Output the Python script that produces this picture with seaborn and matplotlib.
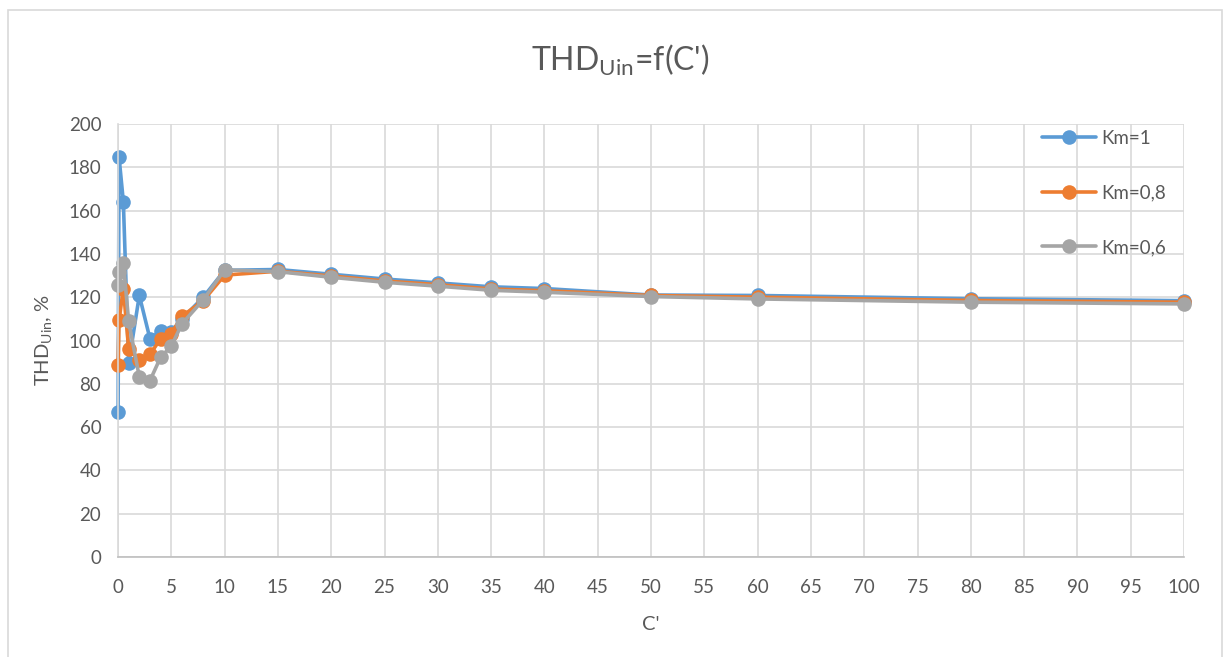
import matplotlib
matplotlib.use("Agg")
import matplotlib.pyplot as plt
from matplotlib.patches import Rectangle
import seaborn as sns
import pandas as pd

# C' values and THD of input voltage for three modulation depths
c_prime = [0.01, 0.1, 0.5, 1, 2, 3, 4, 5, 6, 8, 10, 15, 20, 25, 30, 35, 40, 50, 60, 80, 100]
thd_km_1 = [67.2, 184.6, 164.2, 89.4, 120.8, 100.8, 104.4, 104.0, 110.0, 120.0, 132.4, 132.8,
            130.6, 128.4, 126.6, 124.8, 124.0, 121.0, 120.8, 119.3, 118.4]
thd_km_08 = [88.6, 109.3, 124.0, 96.2, 90.8, 93.6, 100.8, 103.2, 111.2, 118.4, 130.2, 132.0,
             129.8, 127.5, 125.8, 123.8, 123.0, 120.8, 120.0, 118.5, 117.7]
thd_km_06 = [125.8, 131.5, 136.0, 108.8, 83.2, 81.5, 92.3, 97.4, 107.7, 118.8, 132.6, 131.8,
             129.2, 126.9, 125.1, 123.2, 122.3, 120.3, 119.2, 117.7, 116.9]
series_names = ["Km=1", "Km=0,8", "Km=0,6"]

frames = []
for name, vals in zip(series_names, [thd_km_1, thd_km_08, thd_km_06]):
    frames.append(pd.DataFrame({"C": c_prime, "THD": vals, "series": name}))
df = pd.concat(frames, ignore_index=True)

sns.set_theme(style="white")
plt.rcParams["font.family"] = ["Lato", "DejaVu Sans"]
plt.rcParams["mathtext.fontset"] = "custom"
plt.rcParams["mathtext.rm"] = "Lato"

text_color = "#595959"
grid_color = "#d9d9d9"
palette = {"Km=1": "#5B9BD5", "Km=0,8": "#ED7D31", "Km=0,6": "#A5A5A5"}

fig = plt.figure(figsize=(12.32, 6.57), dpi=100)
ax = fig.add_axes([118 / 1232, 1 - 557 / 657, (1184 - 118) / 1232, (557 - 124) / 657])

sns.lineplot(data=df, x="C", y="THD", hue="series", palette=palette, estimator=None,
             sort=False, marker="o", markersize=10.5, markeredgewidth=0, linewidth=2.6,
             ax=ax, legend=True)
for line in ax.lines:
    line.set_clip_on(False)

ax.set_xlim(0, 100)
ax.set_ylim(0, 200)
ax.set_xticks(range(0, 101, 5))
ax.set_yticks(range(0, 201, 20))
ax.grid(True, color=grid_color, linewidth=1.2)
ax.set_axisbelow(True)
for side in ["top", "right"]:
    ax.spines[side].set_visible(False)
ax.spines["left"].set_color(grid_color)
ax.spines["bottom"].set_color("#bfbfbf")
ax.spines["left"].set_linewidth(1.2)
ax.spines["bottom"].set_linewidth(1.2)
ax.tick_params(axis="both", length=0, labelsize=13.5, labelcolor=text_color)
ax.tick_params(axis="x", pad=16)
ax.tick_params(axis="y", pad=12)

ax.set_xlabel("C'", fontsize=14.5, color=text_color, labelpad=14)
ax.set_ylabel("THD$_{\\mathregular{Uin}}$, %", fontsize=14.5, color=text_color, labelpad=10)

fig.text(620 / 1232, 1 - 60 / 657, "THD$_{\\mathregular{Uin}}$=f(C')", fontsize=23,
         color=text_color, ha="center", va="center")

handles, labels = ax.get_legend_handles_labels()
leg = ax.legend(handles, labels, loc="upper left", bbox_to_anchor=(0.851, 1.025),
                frameon=False, fontsize=13.5, labelspacing=2.0, handlelength=2.9,
                handletextpad=0.27, labelcolor=text_color)

fig.patches.append(Rectangle((8 / 1232, -0.02), (1222 - 8) / 1232, 1.02 - 10 / 657,
                             transform=fig.transFigure, fill=False,
                             edgecolor="#d9d9d9", linewidth=1.2))

fig.savefig("out.png", dpi=100, facecolor="white")
